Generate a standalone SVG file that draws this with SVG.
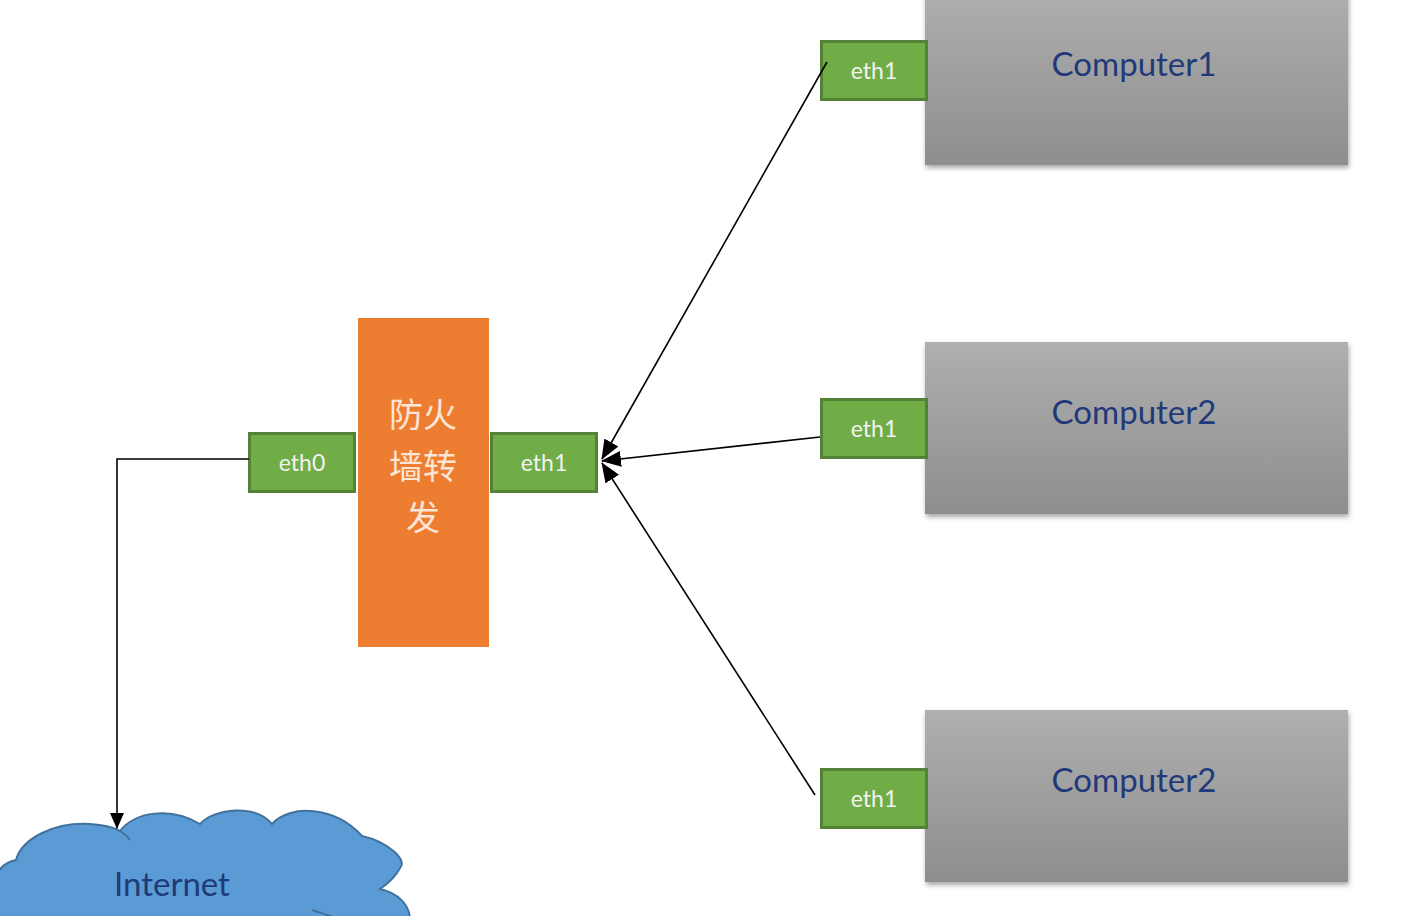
<svg xmlns="http://www.w3.org/2000/svg" width="1402" height="916" viewBox="0 0 1402 916">
  <defs>
    <linearGradient id="grayFill" x1="0" y1="0" x2="0" y2="1">
      <stop offset="0" stop-color="#afafaf"/>
      <stop offset="1" stop-color="#8e8e8e"/>
    </linearGradient>
    <filter id="shadow" x="-5%" y="-5%" width="110%" height="120%">
      <feDropShadow dx="1" dy="3" stdDeviation="2.5" flood-color="#000" flood-opacity="0.35"/>
    </filter>
    <marker id="arrow" viewBox="0 0 16 14" refX="15" refY="7" markerWidth="16" markerHeight="14" markerUnits="userSpaceOnUse" orient="auto">
      <path d="M0,0 L16,7 L0,14 Z" fill="#000"/>
    </marker>
    <marker id="arrowBig" viewBox="0 0 20 16" refX="19" refY="8" markerWidth="20" markerHeight="16" markerUnits="userSpaceOnUse" orient="auto">
      <path d="M0,0 L20,8 L0,16 Z" fill="#000"/>
    </marker>
  </defs>
  <style>
    .port { fill: #70ad47; stroke: #538135; stroke-width: 3; }
    .portText { fill: #f2f2f2; font-family: Lato, "Open Sans", sans-serif; font-size: 23px; text-anchor: middle; }
    .computer { fill: url(#grayFill); filter: url(#shadow); }
    .compText { fill: #1f3a78; font-family: Lato, "Open Sans", sans-serif; font-size: 33px; text-anchor: middle; }
    .fwText { fill: #fbe5d6; font-family: "Noto Sans CJK SC", sans-serif; font-size: 34px; text-anchor: middle; }
    .link { fill: none; stroke: #000; stroke-width: 1.6; }
  </style>

  <rect width="1402" height="916" fill="#fff"/>

  <!-- Internet cloud -->
  <g id="internet">
    <path d="M-5,880 C-2,868 6,862 16,860 C22,838 55,822 90,824 C105,825 115,828 120,831 C135,812 170,806 200,824 C215,808 255,804 272,824 C290,804 335,806 362,836 C388,842 408,860 400,868 C396,876 390,882 380,889 C398,893 410,905 410,920 L-5,920 Z" fill="#5b9bd5" stroke="#41719c" stroke-width="2"/>
    <path d="M120,831 C125,834 128,837 130,840" fill="none" stroke="#41719c" stroke-width="2"/>
    <path d="M312,910 C322,913 332,916 338,920" fill="none" stroke="#41719c" stroke-width="2"/>
    <text x="172" y="896" fill="#1f3a78" font-family="Lato, 'Open Sans', sans-serif" font-size="33" text-anchor="middle">Internet</text>
  </g>

  <!-- Firewall -->
  <g id="firewall">
    <rect x="358" y="318" width="131" height="329" fill="#ed7d31"/>
    <text class="fwText" x="423" y="427">防火</text>
    <text class="fwText" x="423" y="479">墙转</text>
    <text class="fwText" x="423" y="530">发</text>
  </g>
  <g id="fw-eth0">
    <rect class="port" x="249.5" y="433.5" width="105" height="58"/>
    <text class="portText" x="302" y="471">eth0</text>
  </g>
  <g id="fw-eth1">
    <rect class="port" x="491.5" y="433.5" width="105" height="58"/>
    <text class="portText" x="544" y="471">eth1</text>
  </g>

  <!-- Computers -->
  <g id="computer1">
    <rect class="computer" x="925" y="-10" width="423" height="175"/>
    <text class="compText" x="1134" y="76">Computer1</text>
    <rect class="port" x="821.5" y="41.5" width="105" height="58"/>
    <text class="portText" x="874" y="79">eth1</text>
  </g>
  <g id="computer2">
    <rect class="computer" x="925" y="342" width="423" height="172"/>
    <text class="compText" x="1134" y="424">Computer2</text>
    <rect class="port" x="821.5" y="399.5" width="105" height="58"/>
    <text class="portText" x="874" y="437">eth1</text>
  </g>
  <g id="computer3">
    <rect class="computer" x="925" y="710" width="423" height="172"/>
    <text class="compText" x="1134" y="792">Computer2</text>
    <rect class="port" x="821.5" y="769.5" width="105" height="58"/>
    <text class="portText" x="874" y="807">eth1</text>
  </g>

  <!-- Connectors -->
  <g id="connectors">
    <path class="link" d="M249,459 L117,459 L117,828" marker-end="url(#arrow)"/>
    <path class="link" d="M827,62 L602,459" marker-end="url(#arrowBig)"/>
    <path class="link" d="M820,437 L602,461" marker-end="url(#arrowBig)"/>
    <path class="link" d="M815,795 L602,463" marker-end="url(#arrowBig)"/>
  </g>
</svg>
